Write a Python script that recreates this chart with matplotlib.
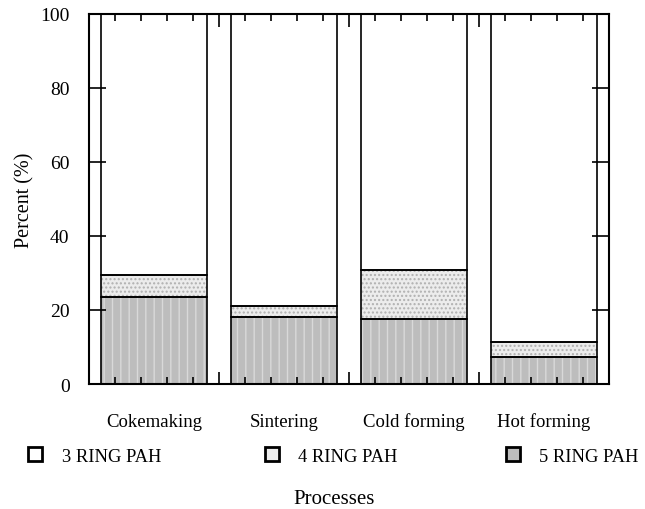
import numpy as np
import matplotlib.pyplot as plt
from matplotlib.patches import Patch

plt.rcParams['font.family'] = ['Liberation Serif', 'DejaVu Serif']

processes = ['Cokemaking', 'Sintering', 'Cold forming', 'Hot forming']
ring5 = [23.6, 18.2, 17.7, 7.4]
ring4 = [5.9, 2.9, 13.0, 3.9]
ring3 = [100 - a - b for a, b in zip(ring5, ring4)]
series = ['3 RING PAH', '4 RING PAH', '5 RING PAH']

x = np.arange(len(processes))
w = 0.81

fig = plt.figure(figsize=(6.45, 5.10), dpi=100)
ax = fig.add_axes([0.138, 0.245, 0.806, 0.726])

c5, c4, c3 = '#bdbdbd', '#ececec', 'white'
b4 = np.array(ring5)
b3 = b4 + np.array(ring4)

# fills with texture
ax.bar(x, ring5, w, color=c5, edgecolor='none')
ax.bar(x, ring5, w, color='none', edgecolor='#d9d9d9', hatch='||', linewidth=0)
ax.bar(x, ring4, w, bottom=b4, color=c4, edgecolor='none')
ax.bar(x, ring4, w, bottom=b4, color='none', edgecolor='#b0b0b0', hatch='....', linewidth=0)
ax.bar(x, ring3, w, bottom=b3, color=c3, edgecolor='none')
# outlines
for vals, bot in [(ring5, 0), (ring4, b4), (ring3, b3)]:
    ax.bar(x, vals, w, bottom=bot, color='none', edgecolor='black', linewidth=1.2)

ax.set_xlim(-0.5, 3.5)
ax.set_ylim(0, 100)
ax.set_xticks(np.arange(-0.5, 3.6, 1.0))
ax.set_xticks(np.arange(-0.5, 3.51, 0.2), minor=True)
ax.set_xticklabels([])
ax.set_yticks(np.arange(0, 101, 20))
ax.tick_params(axis='both', which='both', direction='in', top=True, right=True, width=1.2)
ax.tick_params(axis='x', which='major', length=9)
ax.tick_params(axis='x', which='minor', length=5)
ax.tick_params(axis='y', which='major', length=12, labelsize=14, pad=14)
for s in ax.spines.values():
    s.set_linewidth(1.5)

for xi, name in zip(x, processes):
    ax.text(xi, -0.10, name, transform=ax.get_xaxis_transform(), ha='center', va='center', fontsize=13.5)

ax.set_ylabel('Percent (%)', fontsize=14.5, labelpad=4)

handles = [Patch(facecolor=c, edgecolor='black', linewidth=2) for c in [c3, c4, c5]]
xs = [0.044, 0.411, 0.784]
for h, lab, xp in zip(handles, series, xs):
    fig.legend([h], [lab], loc='center left', bbox_to_anchor=(xp, 0.104), frameon=False,
               fontsize=13.3, handlelength=0.75, handleheight=0.75, handletextpad=1.05,
               borderaxespad=0, borderpad=0)

fig.text(0.518, 0.02, 'Processes', ha='center', va='center', fontsize=15)

fig.savefig('out.png', dpi=100)
